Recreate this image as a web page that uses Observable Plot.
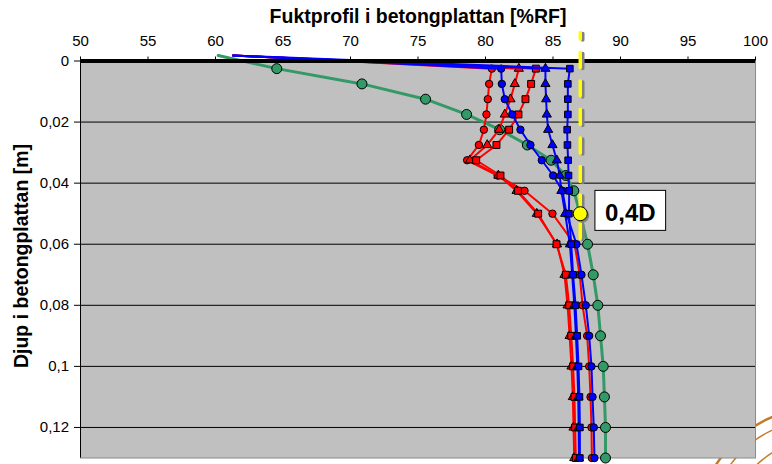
<!DOCTYPE html>
<html>
<head>
<meta charset="utf-8">
<script src="https://cdn.jsdelivr.net/npm/d3@7"></script>
<script src="https://cdn.jsdelivr.net/npm/@observablehq/plot@0.6"></script>
<style>
  html, body { margin: 0; padding: 0; background: #fff; }
  #chart { width: 772px; height: 464px; }
</style>
</head>
<body>
<div id="chart"></div>
<script>
// Depth below the slab surface [m]; the first entry is where the lines enter at the surface.
const depths = [-0.0018, 0.0025, 0.0075, 0.0125, 0.0175, 0.0225, 0.0275, 0.0325, 0.0375, 0.0425,
                0.05, 0.06, 0.07, 0.08, 0.09, 0.10, 0.11, 0.12, 0.13];

// Relative humidity [%RF] at each depth, one array per measured profile.
const rhGreenCircle  = [60.2, 64.54, 70.85, 75.56, 78.60, 81.05, 83.10, 84.86, 85.95, 86.54, 87.00, 87.56, 87.98, 88.32, 88.52, 88.72, 88.81, 88.89, 88.89];
const rhRedCircle    = [61.3, 80.47, 80.27, 80.17, 80.07, 79.88, 79.51, 78.64, 80.90, 82.89, 84.96, 86.60, 86.98, 87.19, 87.53, 87.68, 87.78, 87.85, 87.88];
const rhRedTriangle  = [61.3, 82.47, 82.17, 81.85, 81.43, 81.01, 80.13, 78.84, 80.95, 82.30, 83.80, 85.30, 85.85, 86.08, 86.23, 86.37, 86.47, 86.52, 86.57];
const rhRedSquare    = [61.3, 83.73, 83.38, 82.96, 82.44, 81.75, 80.81, 79.31, 81.11, 82.40, 83.90, 85.26, 85.95, 86.20, 86.35, 86.49, 86.59, 86.64, 86.69];
const rhBlueCircle   = [61.3, 81.16, 81.21, 81.43, 81.98, 82.59, 83.33, 84.17, 85.01, 85.70, 86.00, 86.74, 87.11, 87.43, 87.68, 87.85, 87.93, 88.02, 88.07];
const rhBlueTriangle = [61.3, 84.44, 84.44, 84.49, 84.54, 84.64, 84.96, 85.28, 85.50, 85.62, 85.90, 86.25, 86.42, 86.58, 86.70, 86.80, 86.87, 86.90, 86.92];
const rhBlueSquare   = [61.3, 86.25, 86.10, 86.10, 86.10, 86.05, 86.07, 86.12, 86.15, 86.20, 86.18, 86.35, 86.49, 86.67, 86.79, 86.89, 86.96, 86.99, 86.99];

// Evaluation level: RH at depth 0,4D and the vertical reference line through it.
const evalRH = 87.02;
const evalDepth = 0.05;
const evalLabel = "0,4D";
const refLineDepths = [-0.0093, 0.0585];

// Axes
const xDomain = [50, 100];
const yDomain = [0, 0.13];
const xTicks = [50, 55, 60, 65, 70, 75, 80, 85, 90, 95, 100];
const yTicks = [0, 0.02, 0.04, 0.06, 0.08, 0.1, 0.12];
const yTickLabels = ["0", "0,02", "0,04", "0,06", "0,08", "0,1", "0,12"];
const xTitle = "Fuktprofil i betongplattan [%RF]";
const yTitle = "Djup i betongplattan [m]";

// Series styling (drawn in this order: later ones on top)
const series = [
  {values: rhGreenCircle,  color: "#339966", symbol: "circle",   r: 5.0, width: 3},
  {values: rhRedCircle,    color: "#ff0000", symbol: "circle",   r: 3.7, width: 2},
  {values: rhRedTriangle,  color: "#ff0000", symbol: "triangle", r: 3.4, width: 2},
  {values: rhRedSquare,    color: "#ff0000", symbol: "square",   r: 3.9, width: 2},
  {values: rhBlueCircle,   color: "#0000ff", symbol: "circle",   r: 3.7, width: 2},
  {values: rhBlueTriangle, color: "#0000ff", symbol: "triangle", r: 3.4, width: 2},
  {values: rhBlueSquare,   color: "#0000ff", symbol: "square",   r: 3.7, width: 2}
];

const seriesMarks = series.flatMap(s => {
  const rows = depths.map((d, i) => ({depth: d, rh: s.values[i]}));
  return [
    Plot.line(rows, {x: "rh", y: "depth", stroke: s.color, strokeWidth: s.width}),
    Plot.dot(rows.filter(d => d.depth > 0), {
      x: "rh", y: "depth", symbol: s.symbol, r: s.r,
      fill: s.color, stroke: "black", strokeWidth: 1
    })
  ];
});

const refLine = refLineDepths.map(d => ({depth: d, rh: evalRH}));
const evalPoint = [{depth: evalDepth, rh: evalRH}];
const yLabelOf = new Map(yTicks.map((t, i) => [t, yTickLabels[i]]));

const chart = Plot.plot({
  width: 772,
  height: 464,
  marginTop: 60.5,
  marginBottom: 6.5,
  marginLeft: 80,
  marginRight: 17,
  style: {fontFamily: "'Liberation Sans', Arial, sans-serif", fontSize: "15px", color: "black", background: "white"},
  x: {domain: xDomain, axis: "top", ticks: xTicks, tickSize: 5, tickPadding: 10, tickFormat: d => String(d), label: null},
  y: {domain: yDomain, reverse: true, ticks: yTicks, tickSize: 6, tickPadding: 5.5, tickFormat: d => yLabelOf.get(d), label: null},
  marks: [
    Plot.frame({fill: "#c0c0c0", stroke: "#8a8a8a"}),
    Plot.ruleY(yTicks.filter(t => t > 0), {stroke: "black", strokeWidth: 1}),
    Plot.ruleX([xDomain[0]], {stroke: "black", strokeWidth: 1}),
    ...seriesMarks,
    Plot.ruleY([0], {stroke: "black", strokeWidth: 4}),
    // dashed reference line with its drop shadow
    Plot.line(refLine, {x: "rh", y: "depth", stroke: "#808080", strokeWidth: 3.5,
      strokeDasharray: "15,13.5", strokeDashoffset: 8.7, dx: 2.5, dy: 1}),
    Plot.line(refLine, {x: "rh", y: "depth", stroke: "#ffff00", strokeWidth: 3.5,
      strokeDasharray: "15,13.5", strokeDashoffset: 8.7}),
    Plot.dot(evalPoint, {x: "rh", y: "depth", r: 7, fill: "#808080", dx: 2, dy: 2}),
    Plot.dot(evalPoint, {x: "rh", y: "depth", r: 7, fill: "#ffff00", stroke: "black", strokeWidth: 1}),
    Plot.text(evalPoint, {x: "rh", y: "depth", text: () => evalLabel, dx: 50,
      fontSize: 24, fontWeight: "bold", fill: "black"}),
    // axis titles
    Plot.text([xTitle], {frameAnchor: "top", textAnchor: "middle", dy: -52, fontSize: 19.5, fontWeight: "bold", fill: "black"}),
    Plot.text([yTitle], {frameAnchor: "left", textAnchor: "middle", rotate: -90, dx: -59, dy: -3.5, fontSize: 19.5, fontWeight: "bold", fill: "black"})
  ]
});

document.getElementById("chart").append(chart);

// White boxed background behind the 0,4D annotation
const labelText = [...chart.querySelectorAll("text")].find(t => t.textContent === evalLabel);
if (labelText) {
  const bb = labelText.getBBox();
  const box = document.createElementNS("http://www.w3.org/2000/svg", "rect");
  box.setAttribute("x", bb.x - 10);
  box.setAttribute("y", bb.y - 9);
  box.setAttribute("width", bb.width + 20);
  box.setAttribute("height", bb.height + 13);
  box.setAttribute("fill", "white");
  box.setAttribute("stroke", "black");
  box.setAttribute("stroke-width", 1);
  if (labelText.getAttribute("transform")) box.setAttribute("transform", labelText.getAttribute("transform"));
  labelText.parentNode.insertBefore(box, labelText);
}

// University seal peeking out behind the lower right corner of the chart
const seal = d3.select(chart).insert("g", ":first-child")
  .attr("fill", "none").attr("stroke", "#c47a26");
seal.append("circle").attr("cx", 818).attr("cy", 528).attr("r", 120).attr("stroke-width", 2.5);
seal.append("circle").attr("cx", 818).attr("cy", 528).attr("r", 108).attr("stroke-width", 1.5);
seal.append("circle").attr("cx", 818).attr("cy", 528).attr("r", 88).attr("stroke-width", 1.5);
</script>
</body>
</html>
